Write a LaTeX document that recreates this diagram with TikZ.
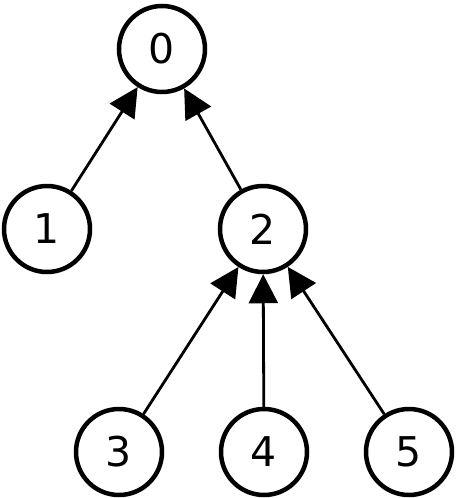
\documentclass[tikz,border=0pt]{standalone}
\usepackage{fontspec}
\setmainfont{DejaVu Sans}
\usetikzlibrary{arrows.meta}
\begin{document}
\begin{tikzpicture}[x=1pt,y=-1pt,
  vert/.style={circle,draw=black,line width=4.5pt,minimum size=86pt,inner sep=0pt,font=\fontsize{41}{41}\selectfont},
  edge/.style={line width=2.8pt,-{Triangle[length=29pt,width=29pt]}}]
\useasboundingbox (0,0) rectangle (459,498);
\node[vert] (n0) at (162,49) {0};
\node[vert] (n1) at (47,229) {1};
\node[vert] (n2) at (263,229) {2};
\node[vert] (n3) at (119,452) {3};
\node[vert] (n4) at (264,452) {4};
\node[vert] (n5) at (409,452) {5};
\draw[edge] (n1) -- (n0);
\draw[edge] (n2) -- (n0);
\draw[edge] (n3) -- (n2);
\draw[edge] (n4) -- (n2);
\draw[edge] (n5) -- (n2);
\end{tikzpicture}
\end{document}
